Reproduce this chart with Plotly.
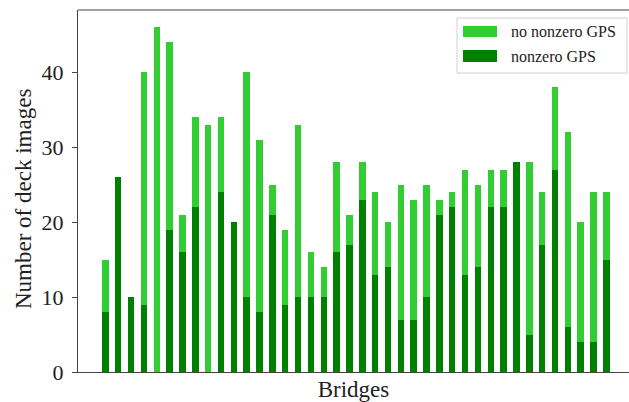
import plotly.graph_objects as go

bridges = list(range(1, 41))
total_images = [15, 26, 10, 40, 46, 44, 21, 34, 33, 34,
                20, 40, 31, 25, 19, 33, 16, 14, 28, 21,
                28, 24, 20, 25, 23, 25, 23, 24, 27, 25,
                27, 27, 28, 28, 24, 38, 32, 20, 24, 24]
nonzero_gps = [8, 26, 10, 9, 0, 19, 16, 22, 0, 24,
               20, 10, 8, 21, 9, 10, 10, 10, 16, 17,
               23, 13, 14, 7, 7, 10, 21, 22, 13, 14,
               22, 22, 28, 5, 17, 27, 6, 4, 4, 15]
y_ticks = [0, 10, 20, 30, 40]
legend_labels = ["no nonzero GPS", "nonzero GPS"]
LIGHT = "#32CD32"
DARK = "#008000"

W, H = 629, 402
ML, MR, MT, MB = 78, 0, 10, 30
PW, PH = W - ML - MR, H - MT - MB

def px(x):
    return (x - ML) / PW

def py(y):
    return (H - MB - y) / PH

xs = [i for i in range(len(bridges))]

fig = go.Figure()
fig.add_trace(go.Bar(x=xs, y=total_images, width=0.5, marker_color=LIGHT,
                     marker_line_width=0, name=legend_labels[0], showlegend=False))
fig.add_trace(go.Bar(x=xs, y=nonzero_gps, width=0.5, marker_color=DARK,
                     marker_line_width=0, name=legend_labels[1], showlegend=False))

font_family = "Liberation Serif, Times New Roman, serif"
spine = "#444444"

shapes = [
    dict(type="line", xref="paper", yref="paper", x0=0, x1=1, y0=1, y1=1,
         line=dict(color=spine, width=1.2)),
    dict(type="rect", xref="paper", yref="paper", x0=px(457), x1=px(627),
         y0=py(73), y1=py(18), line=dict(color="#d0d0d0", width=1),
         fillcolor="rgba(255,255,255,0.8)", layer="above"),
    dict(type="rect", xref="paper", yref="paper", x0=px(463), x1=px(497),
         y0=py(37), y1=py(26), line=dict(width=0), fillcolor=LIGHT, layer="above"),
    dict(type="rect", xref="paper", yref="paper", x0=px(463), x1=px(497),
         y0=py(62), y1=py(50), line=dict(width=0), fillcolor=DARK, layer="above"),
]
annotations = [
    dict(xref="paper", yref="paper", x=px(509), y=py(31.5), text=legend_labels[0],
         showarrow=False, xanchor="left", yanchor="middle",
         font=dict(family=font_family, size=16, color="#222")),
    dict(xref="paper", yref="paper", x=px(509), y=py(56), text=legend_labels[1],
         showarrow=False, xanchor="left", yanchor="middle",
         font=dict(family=font_family, size=16, color="#222")),
    dict(xref="paper", yref="paper", x=px(24), y=py(199), text="Number of deck images",
         textangle=-90, showarrow=False, xanchor="center", yanchor="middle",
         font=dict(family=font_family, size=23, color="#222")),
]

fig.update_layout(
    width=W, height=H,
    margin=dict(l=ML, r=MR, t=MT, b=MB, pad=0),
    barmode="overlay",
    bargap=0,
    plot_bgcolor="white", paper_bgcolor="white",
    font=dict(family=font_family, color="#222"),
    shapes=shapes, annotations=annotations,
    xaxis=dict(range=[-2.13, 40.76], showticklabels=False, ticks="",
               showgrid=False, zeroline=False, showline=True,
               linecolor=spine, linewidth=1.2,
               title=dict(text="Bridges", font=dict(size=23), standoff=9)),
    yaxis=dict(range=[0, 48.3], tickvals=y_ticks, ticks="outside", ticklen=5,
               tickcolor=spine, tickfont=dict(size=22), showgrid=False,
               zeroline=False, showline=True, linecolor=spine, linewidth=1.2,
               ticklabelstandoff=4),
)

fig.write_html("out.html")
